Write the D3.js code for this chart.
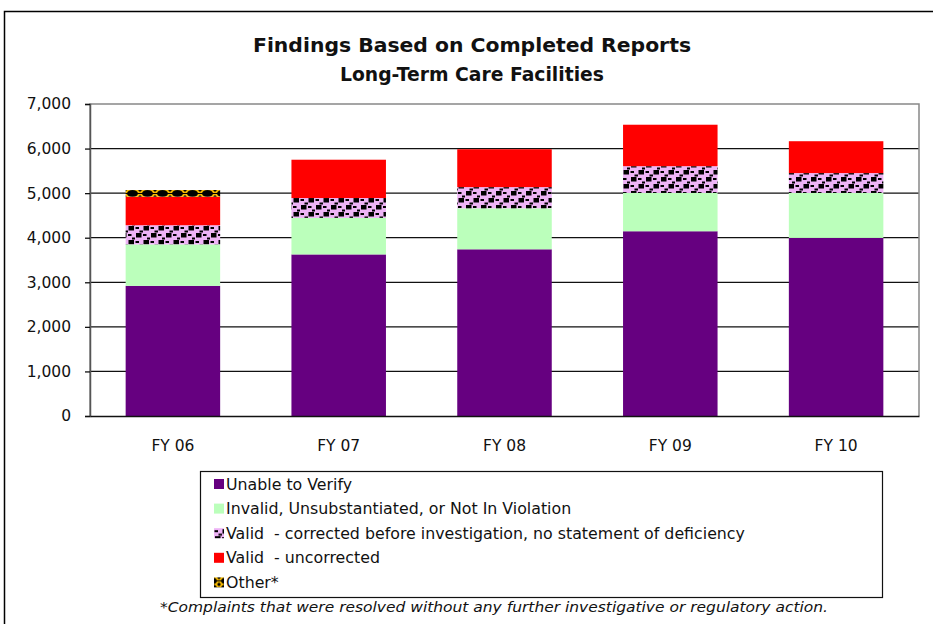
<!DOCTYPE html>
<html>
<head>
<meta charset="utf-8">
<script src="https://cdn.jsdelivr.net/npm/d3@7"></script>
<style>
  body { margin: 0; background: #fff; }
  text { font-family: "DejaVu Sans", "Lato", sans-serif; fill: #111; white-space: pre; }
</style>
</head>
<body>
<div id="chart"></div>
<script>
// data
const years = ["FY 06", "FY 07", "FY 08", "FY 09", "FY 10"];
const unableToVerify = [2920, 3625, 3740, 4145, 3995];
const invalid = [930, 820, 920, 860, 1010];
const validCorrected = [430, 445, 475, 600, 445];
const validUncorrected = [640, 860, 850, 930, 715];
const other = [150, 0, 0, 0, 0];
const yTicks = [0, 1000, 2000, 3000, 4000, 5000, 6000, 7000];

const seriesNames = [
  "Unable to Verify",
  "Invalid, Unsubstantiated, or Not In Violation",
  "Valid  - corrected before investigation, no statement of deficiency",
  "Valid  - uncorrected",
  "Other*"
];
const seriesKeys = ["unable", "invalid", "corrected", "uncorrected", "other"];
const seriesValues = [unableToVerify, invalid, validCorrected, validUncorrected, other];

const W = 933, H = 624;
const m = { left: 90, right: 14, top: 104, bottom: 208 };
const width = W - m.left - m.right;   // 829
const height = H - m.top - m.bottom;  // 312

const svg = d3.select("#chart").append("svg")
  .attr("width", W)
  .attr("height", H);

// fills and patterns
const defs = svg.append("defs");

let pCorr = defs.append("pattern")
  .attr("id", "pat-corrected")
  .attr("patternUnits", "userSpaceOnUse")
  .attr("width", 15).attr("height", 14);
pCorr.append("rect").attr("width", 15).attr("height", 14).attr("fill", "#eeb4f6");
// big squares
[[0, 3], [7.5, 10]].forEach(p => {
  pCorr.append("rect").attr("x", p[0] + 1).attr("y", p[1]).attr("width", 5.5).attr("height", 4.5).attr("fill", "#000");
});
pCorr.append("rect").attr("x", 8.5).attr("y", -4).attr("width", 5.5).attr("height", 4.5).attr("fill", "#000");
// small dashes
[[7.5, 4], [0, 11], [4, 0.5], [11.5, 7.5]].forEach(p => {
  pCorr.append("rect").attr("x", p[0] + 0.5).attr("y", p[1]).attr("width", 3.5).attr("height", 2).attr("fill", "#000");
});

let pOther = defs.append("pattern")
  .attr("id", "pat-other")
  .attr("patternUnits", "userSpaceOnUse")
  .attr("width", 15).attr("height", 7)
  .attr("x", 125).attr("y", 191);
pOther.append("rect").attr("width", 15).attr("height", 7).attr("fill", "#f5b800");
pOther.append("ellipse").attr("cx", 7.5).attr("cy", 3.5).attr("rx", 5.5).attr("ry", 3.5).attr("fill", "#000");
pOther.append("path").attr("d", "M0,0H2L0,2Z M15,0H13L15,2Z M0,7H2L0,5Z M15,7H13L15,5Z").attr("fill", "#000");
pOther.append("rect").attr("x", 0).attr("y", 3).attr("width", 15).attr("height", 1).attr("fill", "#000");

const fills = {
  unable: "#660080",
  invalid: "#bbffbb",
  corrected: "url(#pat-corrected)",
  uncorrected: "#ff0000",
  other: "url(#pat-other)"
};

// outer frame
svg.append("rect")
  .attr("x", 4.5).attr("y", 11.5)
  .attr("width", W + 20).attr("height", H + 20)
  .attr("fill", "none")
  .attr("stroke", "#000")
  .attr("stroke-width", 1.5);

// title
svg.append("text")
  .attr("x", 472).attr("y", 52)
  .attr("text-anchor", "middle")
  .attr("textLength", 438).attr("lengthAdjust", "spacingAndGlyphs")
  .style("font-size", "20px").style("font-weight", "bold")
  .text("Findings Based on Completed Reports");
svg.append("text")
  .attr("x", 472).attr("y", 81)
  .attr("text-anchor", "middle")
  .attr("textLength", 264).attr("lengthAdjust", "spacingAndGlyphs")
  .style("font-size", "20px").style("font-weight", "bold")
  .text("Long-Term Care Facilities");

const vis = svg.append("g")
  .attr("transform", "translate(" + m.left + "," + m.top + ")");

let x = d3.scaleBand().domain(years).range([0, width]).paddingInner(0.43).paddingOuter(0.215);
let y = d3.scaleLinear().domain([0, 7000]).range([height, 0]);

// gridlines
vis.append("g")
  .selectAll("line")
  .data(yTicks.filter(d => d > 0 && d < 7000))
  .enter().append("line")
  .attr("x1", 0).attr("x2", width)
  .attr("y1", d => y(d)).attr("y2", d => y(d))
  .attr("stroke", "#111")
  .attr("stroke-width", 1.3);

// plot area frame (top, right, left)
vis.append("path")
  .attr("d", "M0," + height + "V0H" + width + "V" + height)
  .attr("fill", "none")
  .attr("stroke", "#888")
  .attr("stroke-width", 1.5);

// stacked bars
const table = years.map((yr, i) => {
  let row = { year: yr };
  seriesKeys.forEach((k, j) => { row[k] = seriesValues[j][i]; });
  return row;
});
const stacked = d3.stack().keys(seriesKeys)(table);

vis.selectAll(".layer")
  .data(stacked)
  .enter().append("g")
  .attr("class", "layer")
  .attr("fill", d => fills[d.key])
  .selectAll("rect")
  .data(d => d.filter(v => v[1] - v[0] > 0))
  .enter().append("rect")
  .attr("x", d => x(d.data.year))
  .attr("y", d => y(d[1]))
  .attr("width", x.bandwidth())
  .attr("height", d => y(d[0]) - y(d[1]));

// y axis
const yAxis = vis.append("g")
  .call(d3.axisLeft(y).tickValues(yTicks).tickSize(5).tickPadding(14).tickFormat(d3.format(",")));
yAxis.select(".domain").attr("stroke", "#555").attr("stroke-width", 1.5);
yAxis.selectAll(".tick line").attr("stroke", "#111").attr("stroke-width", 1.3);
yAxis.selectAll(".tick text").style("font-size", "15.5px").attr("fill", "#111");

// x axis
const xAxis = vis.append("g")
  .attr("transform", "translate(0," + height + ")")
  .call(d3.axisBottom(x).tickSize(0).tickPadding(24));
xAxis.select(".domain").attr("stroke", "#111").attr("stroke-width", 1.5);
xAxis.selectAll(".tick text").style("font-size", "15.5px").attr("fill", "#111");

// legend
const legend = svg.append("g");
legend.append("rect")
  .attr("x", 200.5).attr("y", 471.5)
  .attr("width", 682).attr("height", 126)
  .attr("fill", "#fff")
  .attr("stroke", "#111")
  .attr("stroke-width", 1.2);

seriesKeys.forEach((k, i) => {
  let g = legend.append("g")
    .attr("transform", "translate(214," + (484 + i * 24.6) + ")");
  g.append("rect")
    .attr("x", 0).attr("y", -5)
    .attr("width", 10).attr("height", 10)
    .attr("fill", fills[k]);
  g.append("text")
    .attr("x", 12).attr("y", 5.5)
    .style("font-size", "15.8px")
    .text(seriesNames[i]);
});

// footnote
svg.append("text")
  .attr("x", 494).attr("y", 612)
  .attr("text-anchor", "middle")
  .attr("textLength", 668).attr("lengthAdjust", "spacingAndGlyphs")
  .style("font-size", "14px").style("font-style", "italic")
  .text("*Complaints that were resolved without any further investigative or regulatory action.");
</script>
</body>
</html>
